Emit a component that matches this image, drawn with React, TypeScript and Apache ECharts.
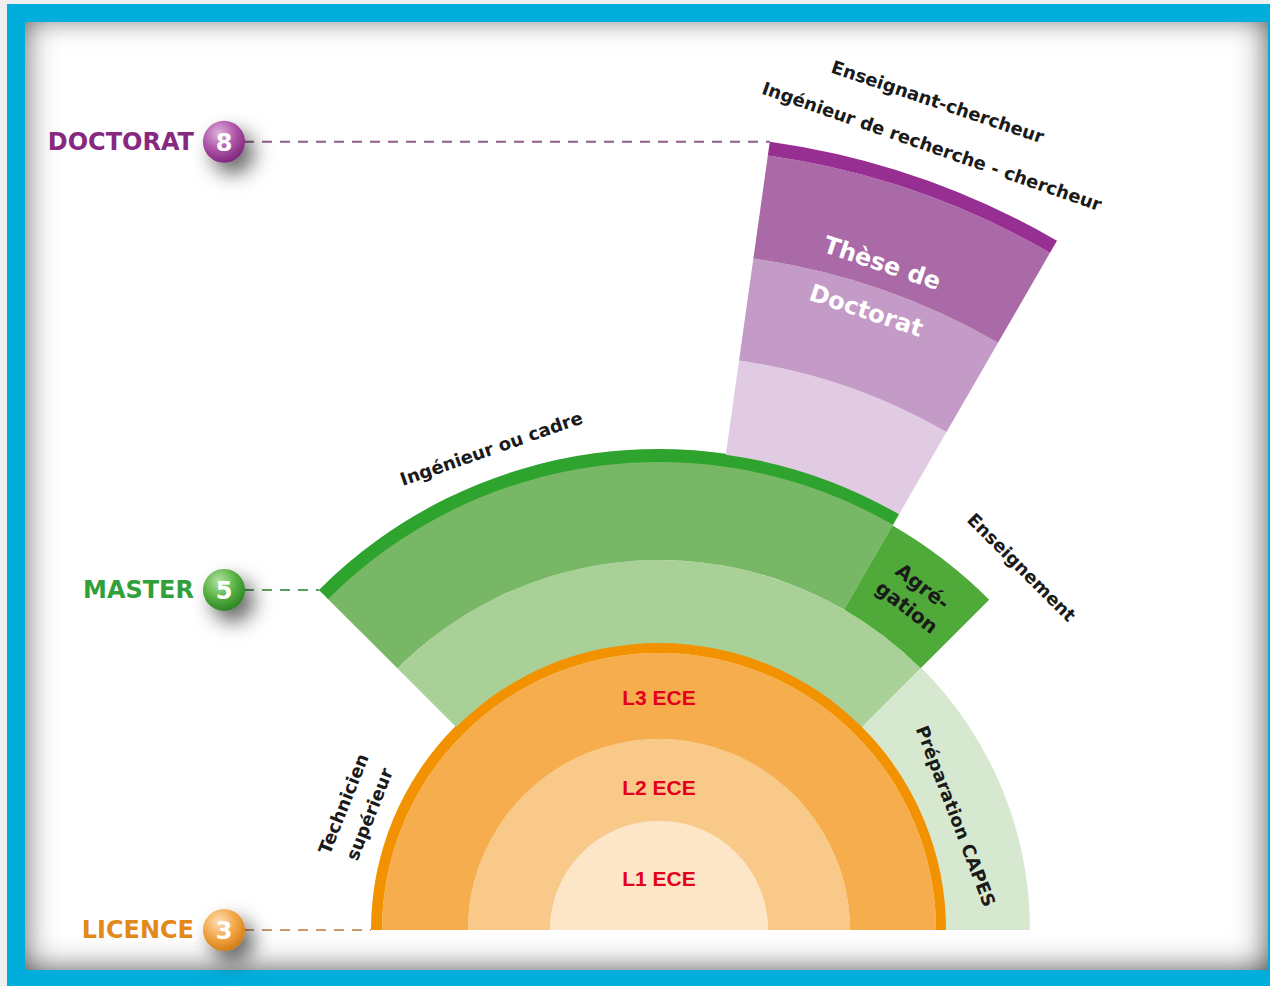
import React, { useEffect, useRef } from 'react';
import * as echarts from 'echarts';

// ---------- DATA ----------
// Sectors of the diagram: angle in degrees (0 = right, 90 = top), radius in radius-axis units
const segmentNames = [
  'L1 ECE', 'L2 ECE', 'L3 ECE', 'Licence',
  'Préparation CAPES', 'Master 1', 'Master 2', 'Master', 'Agrégation',
  'Doctorat 1', 'Doctorat 2', 'Doctorat 3', 'Doctorat',
];
const segmentStartAngle = [0, 0, 0, 0, 0, 45, 60, 60, 45, 60, 60, 60, 60];
const segmentEndAngle = [180, 180, 180, 180, 45, 135, 135, 135, 60, 82, 82, 82, 82];
const segmentInnerRadius = [0, 109, 191, 277, 287, 287, 370, 468, 370, 480, 575, 678, 782];
const segmentOuterRadius = [109, 191, 277, 288, 371, 370, 470, 481, 467, 575, 678, 782, 796];

// Text labels placed in polar coordinates
const labelTexts = [
  'Enseignant-chercheur',
  'Ingénieur de recherche - chercheur',
  'Thèse de\nDoctorat',
  'Ingénieur ou cadre',
  'Agré-\ngation',
  'Enseignement',
  'Préparation CAPES',
  'Technicien\nsupérieur',
  'L3 ECE',
  'L2 ECE',
  'L1 ECE',
];
const labelAngles = [71.4, 70.8, 71.5, 109.2, 52.5, 45, 21, 158.2, 90, 90, 90];
const labelRadii = [874, 830, 678, 510, 420, 513, 318, 326, 233, 143, 52];

// Levels (years after bac) and the corner of the diagram they point to
const levelNames = ['DOCTORAT', 'MASTER', 'LICENCE'];
const levelYears = ['8', '5', '3'];
const levelAngles = [82, 135, 180];
const levelRadii = [796, 481, 288];

// ---------- STYLES ----------
const segmentColors = [
  '#fde6c8', '#f9c98a', '#f5ad4d', '#f29200',
  '#d6e9d0', '#a9d197', '#77b765', '#2ea32e', '#4faa3a',
  '#e0cbe3', '#c49ac6', '#a96aa7', '#962f91',
];
const labelFontSizes = [18, 18, 24, 18, 20, 18, 18, 18, 21, 21, 21];
const labelLineHeights = [22, 22, 50, 22, 26, 22, 22, 28, 24, 24, 24];
const labelColors = ['#1a1a1a', '#1a1a1a', '#ffffff', '#1a1a1a', '#1a1a1a', '#1a1a1a', '#1a1a1a', '#1a1a1a', '#e2001a', '#e2001a', '#e2001a'];
const labelFonts = ['DejaVu Sans', 'DejaVu Sans', 'DejaVu Sans', 'DejaVu Sans', 'DejaVu Sans', 'DejaVu Sans', 'DejaVu Sans', 'DejaVu Sans', 'Liberation Sans', 'Liberation Sans', 'Liberation Sans'];
const levelTextColors = ['#86297f', '#32a03a', '#e3891c'];
const levelDashColors = ['#8e5b8c', '#5aa05a', '#c99a6a'];
const levelBall = [
  ['#e0b2dd', '#ab52a6', '#7a2276'],
  ['#b5e3a0', '#55b042', '#2a7f22'],
  ['#fde0b5', '#f2a444', '#d07a10'],
];

const TWO_PI = Math.PI * 2;

function renderSegment(params: any, api: any) {
  const cs = params.coordSys;
  const a0 = api.value(0);
  const a1 = api.value(1);
  const r0 = api.value(2);
  const r1 = api.value(3);
  const pOut0 = api.coord([r1, a0]);
  const pOut1 = api.coord([r1, a1]);
  const pIn0 = api.coord([r0, a0]);
  const rOut = Math.hypot(pOut0[0] - cs.cx, pOut0[1] - cs.cy);
  const rIn = Math.hypot(pIn0[0] - cs.cx, pIn0[1] - cs.cy);
  const t0 = Math.atan2(pOut0[1] - cs.cy, pOut0[0] - cs.cx);
  let t1 = Math.atan2(pOut1[1] - cs.cy, pOut1[0] - cs.cx);
  const d = (((t0 - t1) % TWO_PI) + TWO_PI) % TWO_PI;
  t1 = t0 - d;
  return {
    type: 'sector',
    shape: { cx: cs.cx, cy: cs.cy, r0: rIn, r: rOut, startAngle: t1, endAngle: t0, clockwise: true },
    style: { fill: segmentColors[params.dataIndex] },
  };
}

function renderLabel(params: any, api: any) {
  const cs = params.coordSys;
  const i = params.dataIndex;
  const p = api.coord([api.value(0), api.value(1)]);
  const rot = Math.atan2(-(p[1] - cs.cy), p[0] - cs.cx) - Math.PI / 2;
  return {
    type: 'text',
    x: p[0],
    y: p[1],
    rotation: rot,
    style: {
      text: labelTexts[i],
      fill: labelColors[i],
      fontSize: labelFontSizes[i],
      fontWeight: 'bold',
      fontFamily: labelFonts[i],
      align: 'center',
      verticalAlign: 'middle',
      lineHeight: labelLineHeights[i],
    },
  };
}

function renderLevel(params: any, api: any) {
  const i = params.dataIndex;
  const p = api.coord([api.value(0), api.value(1)]);
  const y = p[1];
  const ballX = 224;
  const c = levelBall[i];
  return {
    type: 'group',
    children: [
      {
        type: 'line',
        shape: { x1: 244, y1: y, x2: p[0], y2: y },
        style: { stroke: levelDashColors[i], lineWidth: 2, lineDash: [10, 8] },
      },
      {
        type: 'circle',
        shape: { cx: ballX, cy: y, r: 21 },
        style: {
          fill: new echarts.graphic.RadialGradient(0.38, 0.3, 0.75, [
            { offset: 0, color: c[0] },
            { offset: 0.55, color: c[1] },
            { offset: 1, color: c[2] },
          ]),
          shadowBlur: 20,
          shadowColor: 'rgba(0,0,0,0.6)',
          shadowOffsetX: 9,
          shadowOffsetY: 11,
        },
      },
      {
        type: 'text',
        x: ballX,
        y: y + 1,
        style: {
          text: levelYears[i],
          fill: '#ffffff',
          fontSize: 24,
          fontWeight: 'bold',
          fontFamily: 'DejaVu Sans',
          align: 'center',
          verticalAlign: 'middle',
        },
      },
      {
        type: 'text',
        x: 194,
        y: y,
        style: {
          text: levelNames[i],
          fill: levelTextColors[i],
          fontSize: 24,
          fontWeight: 'bold',
          fontFamily: 'DejaVu Sans',
          align: 'right',
          verticalAlign: 'middle',
        },
      },
    ],
  };
}

export default function App() {
  const ref = useRef<HTMLDivElement>(null);
  useEffect(() => {
    const chart = echarts.init(ref.current!, null, { renderer: 'svg' });
    chart.setOption({
      animation: false,
      polar: { center: [659, 930], radius: [0, 800] },
      angleAxis: { type: 'value', min: 0, max: 360, startAngle: 0, clockwise: false, show: false },
      radiusAxis: { type: 'value', min: 0, max: 800, show: false },
      series: [
        {
          type: 'custom',
          name: 'segments',
          coordinateSystem: 'polar',
          silent: true,
          z: 2,
          renderItem: renderSegment,
          data: segmentNames.map((n, i) => ({
            name: n,
            value: [segmentStartAngle[i], segmentEndAngle[i], segmentInnerRadius[i], segmentOuterRadius[i]],
          })),
        },
        {
          type: 'custom',
          name: 'labels',
          coordinateSystem: 'polar',
          silent: true,
          z: 3,
          renderItem: renderLabel,
          data: labelTexts.map((t, i) => ({ name: t, value: [labelRadii[i], labelAngles[i]] })),
        },
        {
          type: 'custom',
          name: 'levels',
          coordinateSystem: 'polar',
          silent: true,
          z: 4,
          renderItem: renderLevel,
          data: levelNames.map((t, i) => ({ name: t, value: [levelRadii[i], levelAngles[i]] })),
        },
      ],
    });
    return () => chart.dispose();
  }, []);
  return (
    <div style={{ position: 'fixed', left: 0, top: 0, width: 1270, height: 986, background: '#efefef', overflow: 'hidden' }}>
      <div style={{ position: 'absolute', left: 7, top: 4, width: 1263, height: 982, background: '#00aedb' }} />
      <div
        style={{
          position: 'absolute',
          left: 25,
          top: 22,
          width: 1243,
          height: 948,
          background: '#ffffff',
          boxShadow:
            'inset 18px 0 30px -14px rgba(0,0,0,0.4), inset -18px 0 30px -14px rgba(0,0,0,0.45), inset 0 16px 30px -16px rgba(0,0,0,0.22), inset 0 -18px 30px -14px rgba(0,0,0,0.38)',
        }}
      />
      <div ref={ref} style={{ position: 'absolute', left: 0, top: 0, width: 1270, height: 986 }} />
    </div>
  );
}
